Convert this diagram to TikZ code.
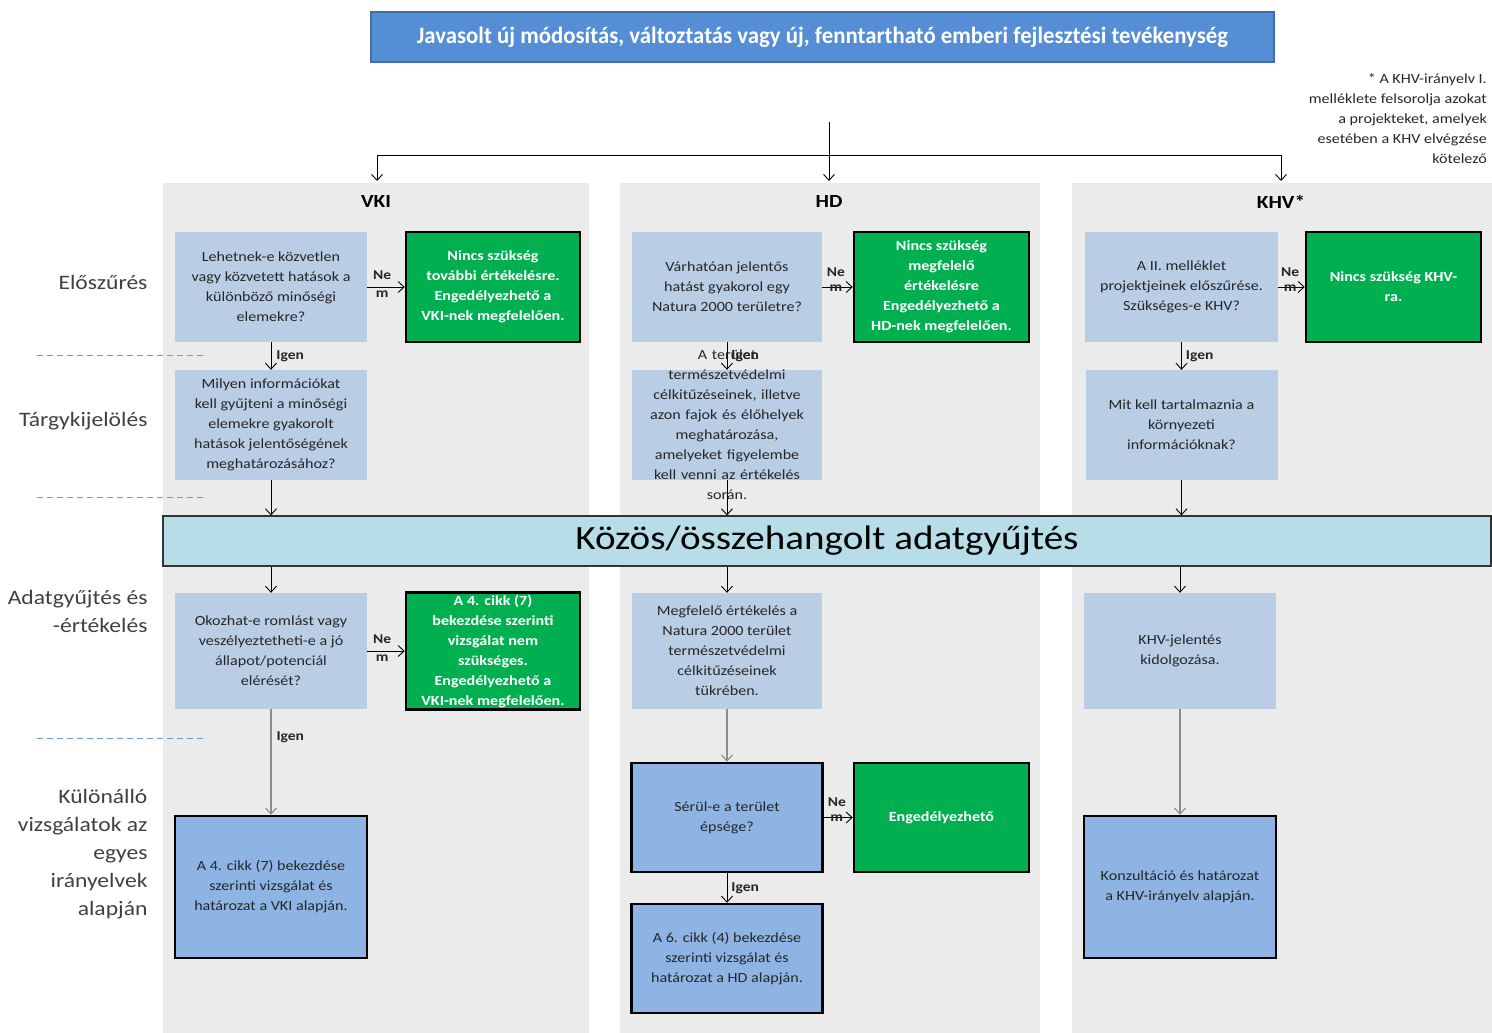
\documentclass[tikz,border=0pt]{standalone}
\usepackage{fontspec}
\setmainfont{Carlito}[FakeStretch=1.15]
\newfontfamily\titlefont{Carlito}[FakeStretch=0.97]
\usetikzlibrary{arrows.meta,calc}

\definecolor{colbg}{HTML}{EBEBEB}
\definecolor{qblue}{HTML}{B9CDE5}
\definecolor{fblue}{HTML}{8EB4E3}
\definecolor{ggreen}{HTML}{00B050}
\definecolor{barblue}{HTML}{B7DEE8}
\definecolor{titleblue}{HTML}{558ED5}
\definecolor{titleedge}{HTML}{3F6EA8}
\definecolor{txt}{HTML}{262626}
\definecolor{sidetxt}{HTML}{404040}
\definecolor{dashblue}{HTML}{6A9BD8}
\definecolor{greyline}{HTML}{8C8C8C}

\newcommand{\boxfont}{\fontsize{14}{20}\selectfont}

\begin{document}
\begin{tikzpicture}[x=1pt,y=-1pt,
  box/.style={rectangle, inner sep=2pt, align=center, text=txt, font=\boxfont},
  qbox/.style={box, fill=qblue},
  gbox/.style={box, fill=ggreen, draw=black, line width=2.5pt, text=white, font=\boxfont\bfseries},
  fbox/.style={box, fill=fblue, draw=black, line width=2.5pt},
  arr/.style={-{Straight Barb[length=6pt,width=11pt]}, line width=0.9pt, draw=black},
  garr/.style={arr, draw=greyline, line width=1.1pt},
  lbl/.style={inner sep=0pt, font=\fontsize{13.5}{16}\selectfont\bfseries, text=txt},
  side/.style={anchor=east, align=right, text=sidetxt, font=\fontsize{20.5}{28}\selectfont},
  head/.style={font=\fontsize{18.5}{20}\selectfont\bfseries, text=black},
  phase/.style={dashed, dash pattern=on 6pt off 4pt, draw=dashblue, line width=1pt}
]
\useasboundingbox (0,0) rectangle (1492,1033);

% column backgrounds
\fill[colbg] (163,183) rectangle (589,1033);
\fill[colbg] (620,183) rectangle (1040,1033);
\fill[colbg] (1072,183) rectangle (1492,1033);

% title
\node[fill=titleblue, draw=titleedge, line width=1.5pt, minimum width=903pt, minimum height=50pt,
      text=white, font=\titlefont\fontsize{23.5}{24}\selectfont\bfseries] (title) at (822.5,37)
  {Javasolt új módosítás, változtatás vagy új, fenntartható emberi fejlesztési tevékenység};

% footnote
\node[anchor=north east, align=right, inner sep=0pt, text=txt, font=\boxfont] (note) at (1487,73)
  {* A KHV-irányelv I.\\melléklete felsorolja azokat\\a projekteket, amelyek\\esetében a KHV elvégzése\\kötelező};

% column headings
\node[head] (hvki) at (376,202) {VKI};
\node[head] (hhd) at (829,202) {HD};
\node[head] (hkhv) at (1281,202) {KHV*};

% phase labels
\node[side] (p1) at (151,282) {Előszűrés};
\node[side] (p2) at (151,421) {Tárgykijelölés};
\node[side] (p3) at (151,611) {Adatgyűjtés és\\-értékelés};
\node[side] (p4) at (151,854) {Különálló\\vizsgálatok az\\egyes\\irányelvek\\alapján};

% phase separators
\draw[phase] (37,355) -- (207,355);
\draw[phase] (37,497) -- (207,497);
\draw[phase] (37,738) -- (207,738);

% ---- VKI ----
\node[qbox, minimum width=192pt, minimum height=110pt] (vq1) at (271,287)
  {Lehetnek-e közvetlen\\vagy közvetett hatások a\\különböző minőségi\\elemekre?};
\node[gbox, minimum width=174pt, minimum height=110pt] (vg1) at (493,287)
  {Nincs szükség\\további értékelésre.\\Engedélyezhető a\\VKI-nek megfelelően.};
\node[qbox, minimum width=192pt, minimum height=110pt] (vq2) at (271,425)
  {Milyen információkat\\kell gyűjteni a minőségi\\elemekre gyakorolt\\hatások jelentőségének\\meghatározásához?};
\node[qbox, minimum width=192pt, minimum height=116pt] (vq3) at (271,651)
  {Okozhat-e romlást vagy\\veszélyeztetheti-e a jó\\állapot/potenciál\\elérését?};
\node[gbox, minimum width=174pt, minimum height=117pt, inner sep=0pt] (vg2) at (493,651)
  {A 4. cikk (7)\\bekezdése szerinti\\vizsgálat nem\\szükséges.\\Engedélyezhető a\\VKI-nek megfelelően.};
\node[fbox, minimum width=192pt, minimum height=142pt] (vf) at (271,887)
  {A 4. cikk (7) bekezdése\\szerinti vizsgálat és\\határozat a VKI alapján.};

% ---- HD ----
\node[qbox, minimum width=190pt, minimum height=110pt] (hq1) at (727,287)
  {Várhatóan jelentős\\hatást gyakorol egy\\Natura 2000 területre?};
\node[gbox, minimum width=175pt, minimum height=110pt] (hg1) at (941.5,287)
  {Nincs szükség\\megfelelő\\értékelésre\\Engedélyezhető a\\HD-nek megfelelően.};
\node[qbox, minimum width=190pt, minimum height=110pt] (hq2) at (727,425) {};
\node[qbox, minimum width=190pt, minimum height=116pt] (hq3) at (727,651)
  {Megfelelő értékelés a\\Natura 2000 terület\\természetvédelmi\\célkitűzéseinek\\tükrében.};
\node[fbox, minimum width=191pt, minimum height=109pt] (hs) at (727,817.5)
  {Sérül-e a terület\\épsége?};
\node[gbox, minimum width=175pt, minimum height=109pt] (hg2) at (941.5,817.5)
  {Engedélyezhető};
\node[fbox, minimum width=191pt, minimum height=109pt] (hf) at (727,958.5)
  {A 6. cikk (4) bekezdése\\szerinti vizsgálat és\\határozat a HD alapján.};

% ---- KHV ----
\node[qbox, minimum width=193pt, minimum height=110pt] (kq1) at (1181.5,287)
  {A II. melléklet\\projektjeinek előszűrése.\\Szükséges-e KHV?};
\node[gbox, minimum width=175pt, minimum height=110pt] (kg1) at (1393.5,287)
  {Nincs szükség KHV-\\ra.};
\node[qbox, minimum width=192pt, minimum height=110pt] (kq2) at (1181.5,425)
  {Mit kell tartalmaznia a\\környezeti\\információknak?};
\node[qbox, minimum width=192pt, minimum height=116pt] (kq3) at (1180,651)
  {KHV-jelentés\\kidolgozása.};
\node[fbox, minimum width=192pt, minimum height=142pt] (kf) at (1180,887)
  {Konzultáció és határozat\\a KHV-irányelv alapján.};

% common data collection bar
\node[fill=barblue, draw=black!80, line width=1.2pt, minimum width=1328pt, minimum height=50pt,
      font=\fontsize{34}{36}\selectfont, text=black] (bar) at (827,541)
  {Közös/összehangolt adatgyűjtés};

% distribution from the proposal to the three directives
\coordinate (src) at (829,122);
\coordinate (split) at (829,155);
\coordinate (invki) at (377,181);
\coordinate (inhd) at (829,181);
\coordinate (inkhv) at (1281,181);
\draw[line width=0.9pt] (invki |- split) -- (inkhv |- split);
\draw[arr] (src) -- (inhd);
\draw[arr] (invki |- split) -- (invki);
\draw[arr] (inkhv |- split) -- (inkhv);

% VKI connectors
\draw[arr] (vq1) -- node[lbl, above=7pt, pos=0.4] {Ne} node[lbl, below=3pt, pos=0.4] {m} (vg1);
\draw[arr] (vq1.south) -- node[lbl, right=5pt] {Igen} (vq2.north);
\draw[arr] (vq2.south) -- (vq2.south |- bar.north);
\draw[arr] (vq3.north |- bar.south) -- (vq3.north);
\draw[arr] (vq3) -- node[lbl, above=7pt, pos=0.4] {Ne} node[lbl, below=3pt, pos=0.4] {m} (vg2);
\draw[garr] (vq3.south) -- node[lbl, right=5pt, pos=0.27] {Igen} (vf.north);

% HD connectors
\draw[arr] (hq1) -- node[lbl, above=10pt, pos=0.45] {Ne} node[lbl, below=-3pt, pos=0.45] {m} (hg1);
\draw[arr] (hq1.south) -- node[lbl, right=4pt] {Igen} (hq2.north);
\node[box, text width=186pt] (hq2t) at (hq2)
  {A terület\\természetvédelmi\\célkitűzéseinek, illetve\\azon fajok és élőhelyek\\meghatározása,\\amelyeket figyelembe\\kell venni az értékelés\\során.};
\draw[arr] (hq2.south) -- (hq2.south |- bar.north);
\draw[arr] (hq3.north |- bar.south) -- (hq3.north);
\draw[garr] (hq3.south) -- (hs.north);
\draw[arr] (hs) -- node[lbl, above=10pt, pos=0.45] {Ne} node[lbl, below=-3pt, pos=0.45] {m} (hg2);
\draw[arr] (hs.south) -- node[lbl, right=4pt] {Igen} (hf.north);

% KHV connectors
\draw[arr] (kq1) -- node[lbl, above=10pt, pos=0.45] {Ne} node[lbl, below=-3pt, pos=0.45] {m} (kg1);
\draw[arr] (kq1.south) -- node[lbl, right=4pt] {Igen} (kq2.north);
\draw[arr] (kq2.south) -- (kq2.south |- bar.north);
\draw[arr] (kq3.north |- bar.south) -- (kq3.north);
\draw[garr] (kq3.south) -- (kf.north);

\end{tikzpicture}
\end{document}
